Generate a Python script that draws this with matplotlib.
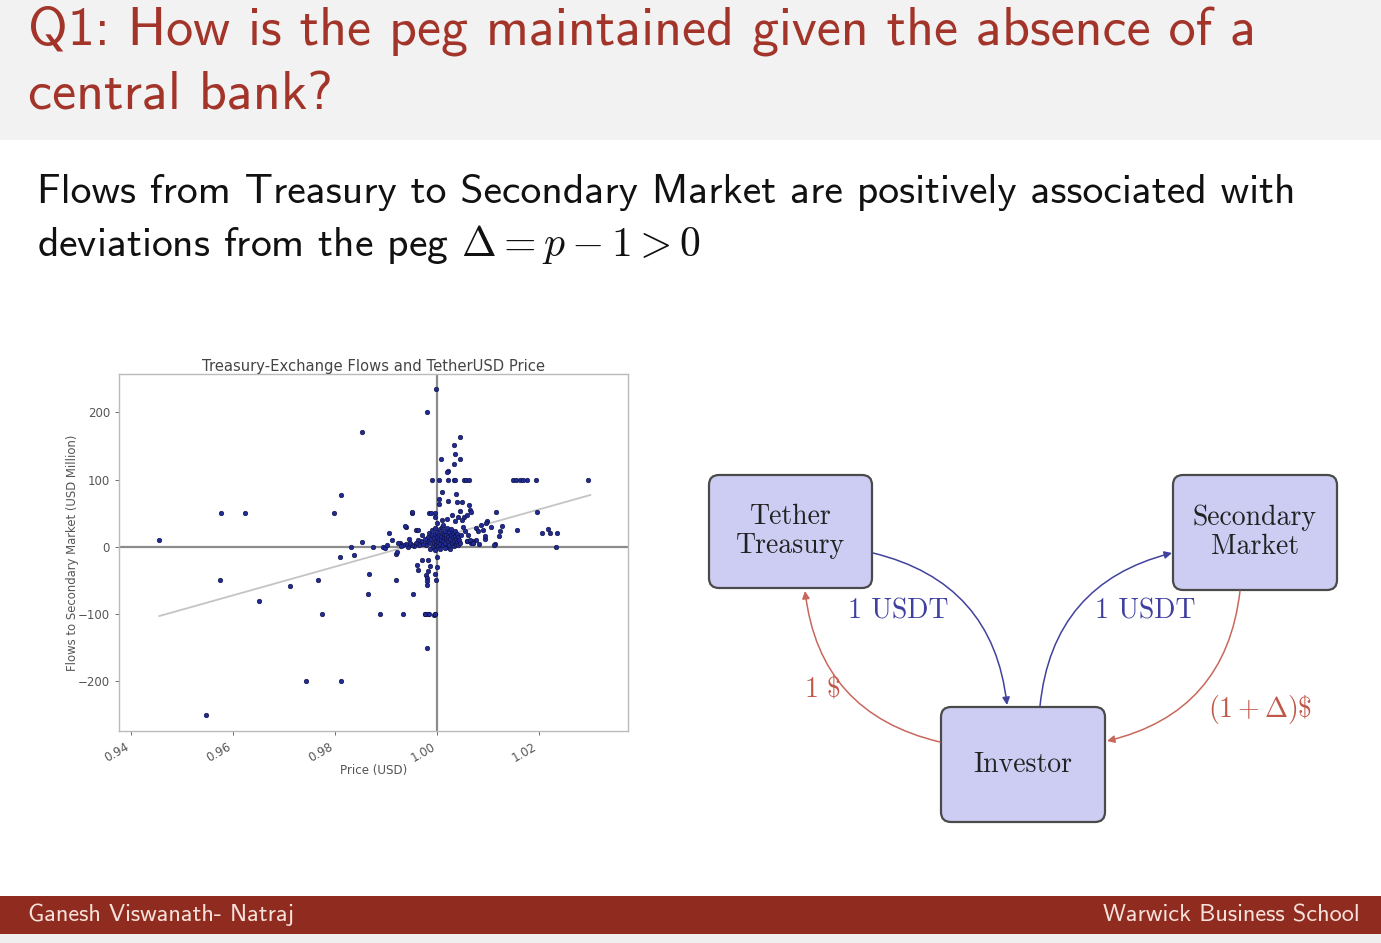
import matplotlib
matplotlib.use("Agg")
import matplotlib.pyplot as plt
from matplotlib.patches import FancyBboxPatch, FancyArrowPatch, Rectangle
import numpy as np

plt.rcParams['mathtext.fontset'] = 'cm'
plt.rcParams['axes.unicode_minus'] = True

# ---- data: price (USD) vs flows to secondary market (USD million) ----
price = [
    0.9455, 0.9576, 0.9624, 0.9575, 0.9651, 0.9547, 0.9711, 0.9766, 0.9775, 0.9742,
    0.9812, 0.9797, 0.9811, 0.9852, 0.9809, 0.9831, 0.9837, 0.9853, 0.9866, 0.9864,
    0.9874, 0.9888, 0.9893, 0.9898, 0.9901, 0.9905, 0.9911, 0.9919, 0.9919, 0.9926,
    0.9933, 0.9938, 0.9951, 0.9953, 0.9959, 0.9975, 0.9982, 0.9993, 0.9995, 0.9980,
    0.9979, 0.9997,
    0.9921, 0.9970, 0.9982, 0.9960, 0.9963, 0.9986, 0.9982, 0.9999, 0.9999, 0.9996,
    0.9997, 0.9978, 0.9980, 0.9980, 0.9980, 0.9976, 0.9983, 0.9996,
    1.0044, 1.0032, 1.0034, 1.0044, 1.0008, 1.0032, 1.0022, 1.0019,
    0.9990, 1.0003, 1.0032, 1.0052, 1.0022, 1.0034, 1.0056, 1.0062,
    1.0009, 1.0037, 1.0003, 1.0022, 1.0039, 1.0049, 1.0003, 1.0063, 1.0065, 1.0067,
    0.9950, 0.9983, 0.9988, 0.9996, 1.0116, 0.9936, 0.9962, 0.9924, 0.9944,
    1.0094, 1.0094, 1.0121, 1.0058, 1.0066, 1.0075, 1.0081, 1.0114,
    1.0149, 1.0155, 1.0162, 1.0169, 1.0175, 1.0193, 1.0296,
    1.0195, 1.0098, 1.0157, 1.0127, 1.0124, 1.0205, 1.0217, 1.0222, 1.0234, 1.0232,
    1.0112, 1.0068, 1.0071,
    0.9978, 0.9980, 0.9982, 0.9984, 0.9986, 0.9988, 0.9990, 0.9990, 0.9992, 0.9993,
    0.9994, 0.9995, 0.9996, 0.9997, 0.9998, 0.9999, 1.0000, 1.0001, 1.0002, 1.0003,
    1.0004, 1.0005, 1.0006, 1.0007, 1.0008, 1.0009, 1.0010, 1.0011, 1.0012, 1.0013,
    1.0014, 1.0015, 1.0016, 1.0017, 1.0018, 1.0019, 1.0020, 1.0021, 1.0022, 1.0023,
    1.0024, 1.0025, 1.0026, 1.0027, 1.0028, 1.0030, 1.0031, 1.0032, 1.0033, 1.0034,
    1.0035, 1.0036, 1.0037, 1.0038, 1.0039, 1.0040, 1.0041, 1.0043, 1.0045, 1.0047,
    0.9975, 0.9972, 0.9970, 0.9968, 0.9965, 0.9962, 0.9958, 0.9955, 0.9950, 0.9946,
    0.9942, 0.9938, 0.9933, 0.9929, 0.9985, 0.9995, 1.0005, 1.0015, 1.0025,
    1.0000, 1.0010, 0.9995, 1.0020, 1.0028, 1.0035, 1.0040, 1.0045, 1.0012, 1.0050,
    1.0055, 1.0060, 1.0058, 1.0065, 1.0070, 1.0075, 1.0080, 1.0085, 1.0090, 1.0095,
    1.0105, 1.0052, 1.0058, 1.0048,
]
flows = [
    10, 50, 50, -50, -80, -250, -58, -50, -100, -200,
    -200, 50, 77, 170, -15, 0, -12, 7, -40, -70,
    0, -100, 0, -2, 2, 20, 10, -10, -50, 5,
    -100, 30, 50, -70, 25, -100, -100, -102, -100, -150,
    200, 234,
    -8, -20, -20, -27, -34, -29, -36, -15, -30, -40,
    -50, -42, -46, -51, -57, -100, -100, -100,
    164, 152, 138, 131, 131, 123, 113, 111,
    100, 100, 100, 100, 100, 100, 100, 100,
    81, 79, 71, 68, 66, 66, 63, 62, 55, 52,
    51, 50, 50, 50, 51, 31, 25, 6, 11,
    11, 16, 16, 8, 6, 10, 4, 4,
    100, 100, 100, 100, 100, 100, 100,
    51, 38, 25, 31, 24, 21, 26, 21, 21, -1,
    2, 9, 5,
    2, 8, 14, 20, 5, 11, 17, 25, 0, 6,
    13, 19, 28, 3, 9, 15, 22, 1, 7, 12,
    18, 26, 4, 10, 16, 21, 30, 2, 8, 14,
    19, 24, 5, 11, 17, 28, 0, 9, 15, 22,
    3, 12, 18, 26, 6, 14, 20, 1, 9, 16,
    24, 4, 12, 19, 7, 14, 2, 10, 5, 17,
    12, 4, 18, 8, 2, 10, 5, 1, 3, 6,
    0, 4, 2, 1, -3, -5, -4, -2, -3,
    35, 40, 45, 42, 48, 38, 45, 53, 33, 30,
    24, 18, 8, 10, 5, 28, 24, 32, 25, 35,
    30, 44, 48, 40,
]
# fitted regression line end points
fit_price = [0.9455, 1.0300]
fit_flows = [-103, 77]

x_ticks = [0.94, 0.96, 0.98, 1.00, 1.02]
y_ticks = [-200, -100, 0, 100, 200]

W, H = 1381, 943
fig = plt.figure(figsize=(W / 100, H / 100), dpi=100)
fig.patch.set_facecolor('white')

# page canvas in pixel coordinates
bg = fig.add_axes([0, 0, 1, 1])
bg.set_xlim(0, W)
bg.set_ylim(H, 0)
bg.axis('off')

title_col = '#a3342a'
bg.add_patch(Rectangle((0, 0), W, 140, fc='#f2f2f2', ec='none'))
bg.text(28, 44, 'Q1: How is the peg maintained given the absence of a',
        family='cmss10', fontsize=39, color=title_col, va='baseline')
bg.text(28, 109, 'central bank?', family='cmss10', fontsize=39,
        color=title_col, va='baseline')

bg.text(37, 203, 'Flows from Treasury to Secondary Market are positively associated with',
        family='cmss10', fontsize=30, color='#111111', va='baseline')
bg.text(37, 256, r'deviations from the peg $\Delta = p - 1 > 0$',
        family='cmss10', fontsize=30, color='#111111', va='baseline')

# footer
bg.add_patch(Rectangle((0, 896), W, 38, fc='#8f2c1f', ec='none'))
bg.add_patch(Rectangle((0, 934), W, 9, fc='#efefef', ec='none'))
bg.text(28, 915, 'Ganesh Viswanath- Natraj', family='cmss10', fontsize=17.5,
        color='#f6e0da', va='center')
bg.text(1360, 915, 'Warwick Business School', family='cmss10', fontsize=17.5,
        color='#f6e0da', va='center', ha='right')

# ---- diagram ----
box_fc = '#cdcdf3'
box_ec = '#4a4a4a'
boxes = {
    'treasury': (709, 475, 163, 113, 'Tether\nTreasury'),
    'market': (1173, 475, 164, 115, 'Secondary\nMarket'),
    'investor': (941, 707, 164, 115, 'Investor'),
}
for key, (bx, by, bw, bh, label) in boxes.items():
    bg.add_patch(FancyBboxPatch((bx, by), bw, bh,
                                boxstyle='round,pad=0,rounding_size=10',
                                fc=box_fc, ec=box_ec, lw=1.6))
    bg.text(bx + bw / 2, by + bh / 2, label, family='cmr10', fontsize=20,
            color='#222222', ha='center', va='center', linespacing=1.15)

blue = '#42429e'
red = '#c8685c'
arrows = [
    ((873, 553), (1007, 705), -0.35, blue),
    ((1040, 706), (1172, 553), -0.35, blue),
    ((940, 742), (805, 591), -0.35, red),
    ((1240, 591), (1107, 741), -0.35, red),
]
for a, b, rad, col in arrows:
    bg.add_patch(FancyArrowPatch(a, b, connectionstyle=f'arc3,rad={rad}',
                                 arrowstyle='-|>', mutation_scale=11,
                                 color=col, lw=1.1, shrinkA=0, shrinkB=0))

bg.text(898, 611, '1 USDT', family='cmr10', fontsize=20, color='#4040a0',
        ha='center', va='center')
bg.text(1145, 611, '1 USDT', family='cmr10', fontsize=20, color='#4040a0',
        ha='center', va='center')
bg.text(822, 688, r'$1\ \$$', fontsize=20, color='#c0584a', ha='center', va='center')
bg.text(1260, 710, r'$(1+\Delta)\$$', fontsize=20, color='#c0584a',
        ha='center', va='center')

# ---- scatter chart ----
ax = fig.add_axes([119 / W, 1 - 731 / H, 509 / W, 357 / H])
ax.set_xlim(0.9376, 1.0374)
ax.set_ylim(-274, 257)
ax.axhline(0, color='#8c8c8c', lw=1.6, zorder=1)
ax.axvline(1.0, color='#8c8c8c', lw=1.6, zorder=1)
ax.plot(fit_price, fit_flows, color='#c4c4c4', lw=1.3, zorder=2)
ax.scatter(price, flows, s=11, color='#1f2b90', edgecolors='#0c0c3c',
           linewidths=0.4, zorder=3)

ax.set_xticks(x_ticks)
ax.set_xticklabels([f'{t:.2f}' for t in x_ticks], rotation=30, ha='right')
ax.set_yticks(y_ticks)
ax.tick_params(labelsize=8.5, colors='#555555', length=3, width=0.6)
for sp in ax.spines.values():
    sp.set_color('#bbbbbb')
    sp.set_linewidth(1.0)
ax.set_title('Treasury-Exchange Flows and TetherUSD Price', fontsize=10.6,
             color='#444444', pad=2)
ax.set_xlabel('Price (USD)', fontsize=8.6, color='#555555', labelpad=0)
ax.set_ylabel('Flows to Secondary Market (USD Million)', fontsize=8.4,
              color='#555555', labelpad=-1)

fig.savefig('out.png', dpi=100)
